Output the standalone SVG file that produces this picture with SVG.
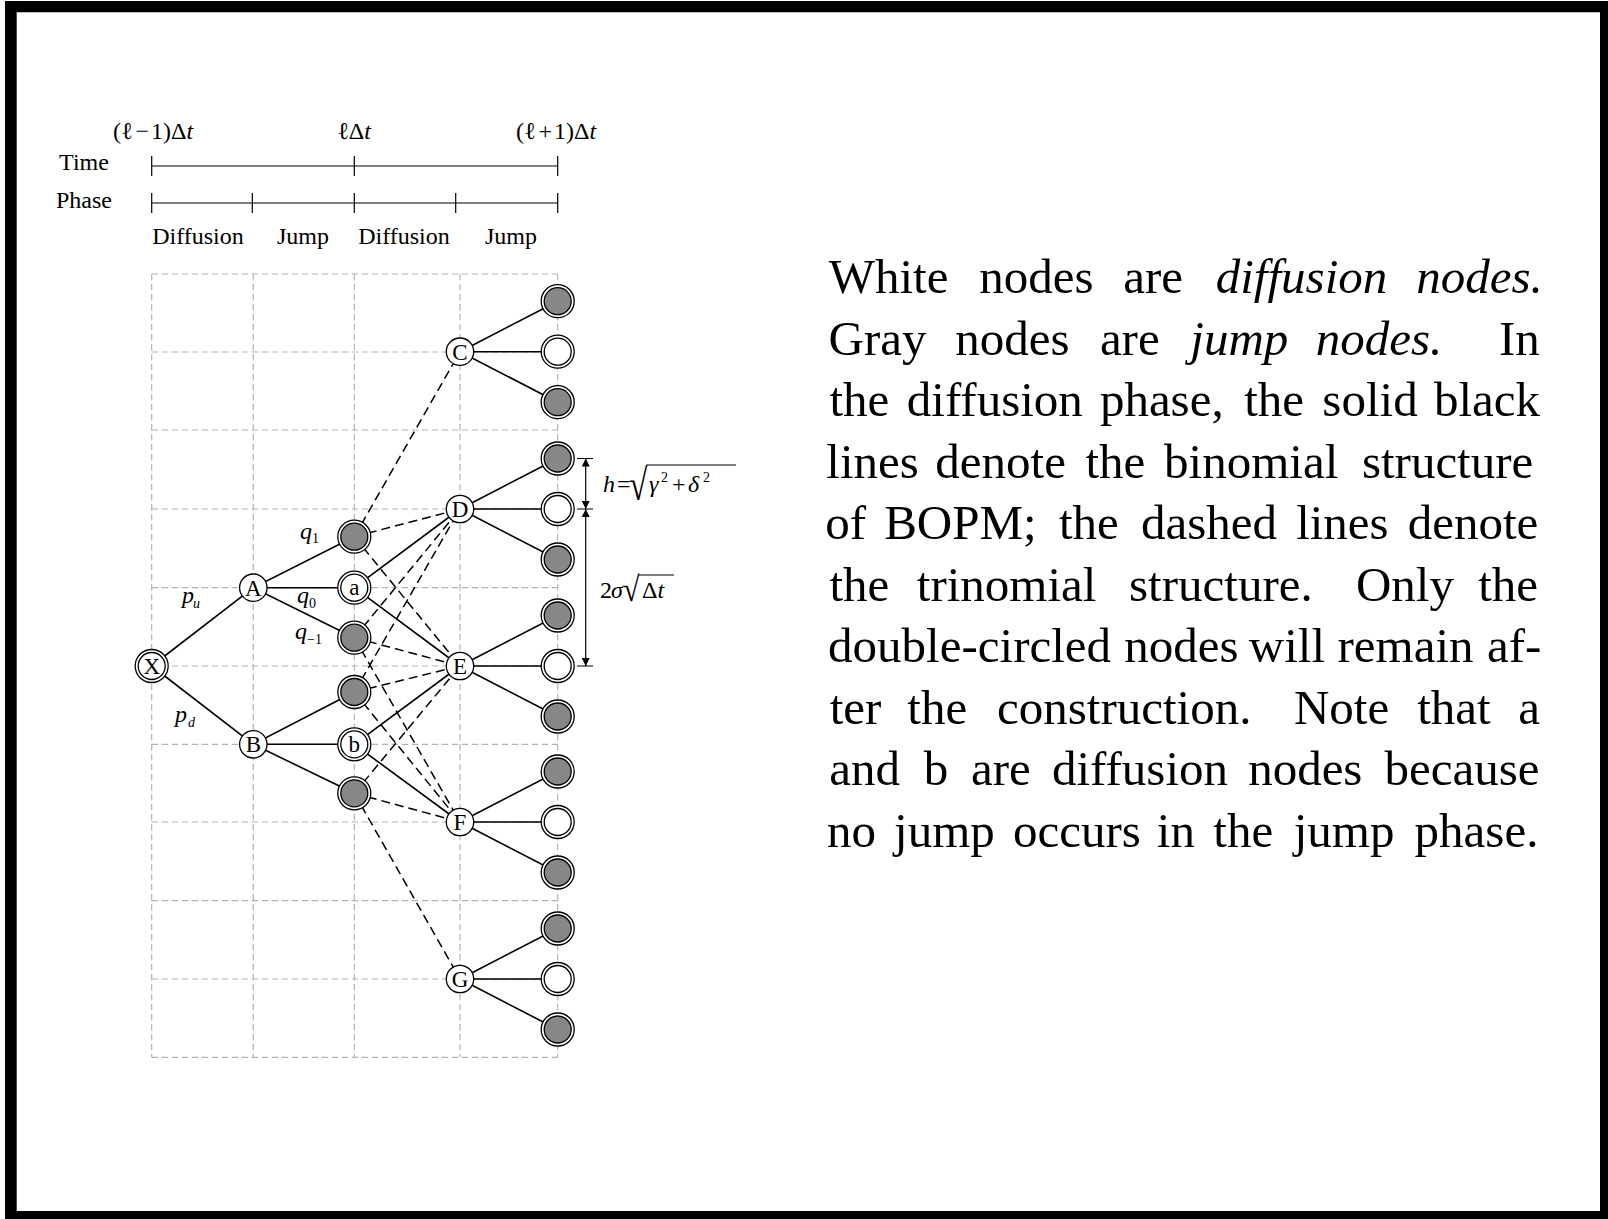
<svg xmlns="http://www.w3.org/2000/svg" xmlns:xlink="http://www.w3.org/1999/xlink" width="1608" height="1219" viewBox="0 0 1608 1219">
<style>
.grid{stroke:#b3b3b3;stroke-width:1.2;stroke-dasharray:6.5 3.5;fill:none}
.e{stroke:#000;stroke-width:1.6;fill:none}
.d{stroke:#000;stroke-width:1.5;stroke-dasharray:9 5;fill:none}
.n{fill:#fff;stroke:#000;stroke-width:1.3}
.g{fill:#878787;stroke:#000;stroke-width:1.3}
.tl{stroke:#000;stroke-width:1.2;fill:none}
.lbl{font-family:"Liberation Serif","Times New Roman",serif;font-size:23px;fill:#000;text-anchor:middle}
.m{font-family:"Liberation Serif","Times New Roman",serif;font-size:24px;fill:#000}
.it{font-style:italic}
.sub{font-family:"Liberation Serif","Times New Roman",serif;font-size:14px;fill:#000}
.para{font-family:"Liberation Serif","Times New Roman",serif;font-size:49px;fill:#000;text-anchor:middle}
</style>
<defs>
<g id="gj"><circle r="16.5" class="n"/><circle r="13.5" class="g"/></g>
<g id="wd"><circle r="16.5" class="n"/><circle r="13.5" class="n"/></g>
<marker id="ah" viewBox="0 0 10 10" refX="10" refY="5" markerWidth="9" markerHeight="8" markerUnits="userSpaceOnUse" orient="auto-start-reverse"><path d="M0,0 L10,5 L0,10 z" fill="#000"/></marker>
</defs>
<rect x="0" y="0" width="1608" height="1219" fill="#fff"/>
<path d="M5,1 H1608 V1219 H5 Z M16.7,12.3 V1211 H1600 V12.3 Z" fill="#000" fill-rule="evenodd"/>

<g id="timeline">
<text class="m" x="153" y="139" text-anchor="middle">(ℓ<tspan dx="3">−</tspan><tspan dx="2">1)Δ</tspan><tspan class="it">t</tspan></text>
<text class="m" x="354" y="139" text-anchor="middle">ℓΔ<tspan class="it">t</tspan></text>
<text class="m" x="556" y="139" text-anchor="middle">(ℓ<tspan dx="3">+</tspan><tspan dx="2">1)Δ</tspan><tspan class="it">t</tspan></text>
<text class="m" x="84" y="170" text-anchor="middle">Time</text>
<text class="m" x="84" y="208" text-anchor="middle">Phase</text>
<path class="tl" d="M151.7,166 H557.7 M151.7,156 V176 M354.3,156 V176 M557.7,156 V176"/>
<path class="tl" d="M151.7,203 H557.7 M151.7,193 V213 M252.3,193 V213 M354.3,193 V213 M455.7,193 V213 M557.7,193 V213"/>
<text class="m" x="198" y="244" text-anchor="middle">Diffusion</text>
<text class="m" x="303" y="244" text-anchor="middle">Jump</text>
<text class="m" x="404" y="244" text-anchor="middle">Diffusion</text>
<text class="m" x="511" y="244" text-anchor="middle">Jump</text>
</g>

<g id="grid">
<path class="grid" d="M151.7,274 V1057.3 M253.3,274 V1057.3 M354.3,274 V1057.3 M460,274 V1057.3 M557.7,274 V1057.3"/>
<path class="grid" d="M151.7,274 H557.7 M151.7,352 H557.7 M151.7,430 H557.7 M151.7,509 H557.7 M151.7,587.7 H557.7 M151.7,666 H557.7 M151.7,744.3 H557.7 M151.7,822 H557.7 M151.7,900.7 H557.7 M151.7,979 H557.7 M151.7,1057.3 H557.7"/>
</g>

<g id="connectors">
<path class="e" d="M151.7,666 L253.3,587.7 M151.7,666 L253.3,744.3
M253.3,587.7 L354.3,536.7 M253.3,587.7 L354.3,587.7 M253.3,587.7 L354.3,637.7
M253.3,744.3 L354.3,692 M253.3,744.3 L354.3,744.3 M253.3,744.3 L354.3,793.3
M354.3,587.7 L460,509 M354.3,587.7 L460,666
M354.3,744.3 L460,666 M354.3,744.3 L460,822
M460,351.7 L557.7,301.2 M460,351.7 L557.7,351.7 M460,351.7 L557.7,402.2
M460,509 L557.7,458.5 M460,509 L557.7,509 M460,509 L557.7,559.5
M460,666 L557.7,615.5 M460,666 L557.7,666 M460,666 L557.7,716.5
M460,822 L557.7,771.5 M460,822 L557.7,822 M460,822 L557.7,872.5
M460,979 L557.7,928.5 M460,979 L557.7,979 M460,979 L557.7,1029.5"/>
<path class="d" d="M354.3,536.7 L460,351.7 M354.3,536.7 L460,509 M354.3,536.7 L460,666
M354.3,637.7 L460,509 M354.3,637.7 L460,666 M354.3,637.7 L460,822
M354.3,692 L460,509 M354.3,692 L460,666 M354.3,692 L460,822
M354.3,793.3 L460,666 M354.3,793.3 L460,822 M354.3,793.3 L460,979"/>
</g>

<g id="edge-labels">
<text class="m it" x="182" y="603">p</text><text class="sub it" x="193" y="608">u</text>
<text class="m it" x="175" y="722">p</text><text class="sub it" x="188" y="727">d</text>
<text class="m it" x="300" y="539">q</text><text class="sub" x="312" y="543">1</text>
<text class="m it" x="297" y="603">q</text><text class="sub" x="309" y="608">0</text>
<text class="m it" x="295" y="639">q</text><text class="sub" x="307" y="644">−1</text>
</g>

<g id="node-X"><use href="#wd" x="151.7" y="666"/><text class="lbl" x="151.7" y="674">X</text></g>
<g id="node-A"><circle class="n" cx="253.3" cy="587.7" r="13.7"/><text class="lbl" x="253.3" y="595.7">A</text></g>
<g id="node-B"><circle class="n" cx="253.3" cy="744.3" r="13.7"/><text class="lbl" x="253.3" y="752.3">B</text></g>
<g id="node-a"><use href="#wd" x="354.3" y="587.7"/><text class="lbl" x="354.3" y="594.7">a</text></g>
<g id="node-b"><use href="#wd" x="354.3" y="744.3"/><text class="lbl" x="354.3" y="751.8">b</text></g>
<g id="node-j1"><use href="#gj" x="354.3" y="536.7"/></g>
<g id="node-j2"><use href="#gj" x="354.3" y="637.7"/></g>
<g id="node-j3"><use href="#gj" x="354.3" y="692"/></g>
<g id="node-j4"><use href="#gj" x="354.3" y="793.3"/></g>
<g id="node-C"><circle class="n" cx="460" cy="351.7" r="13.7"/><text class="lbl" x="460" y="359.7">C</text></g>
<g id="node-D"><circle class="n" cx="460" cy="509" r="13.7"/><text class="lbl" x="460" y="517">D</text></g>
<g id="node-E"><circle class="n" cx="460" cy="666" r="13.7"/><text class="lbl" x="460" y="674">E</text></g>
<g id="node-F"><circle class="n" cx="460" cy="822" r="13.7"/><text class="lbl" x="460" y="830">F</text></g>
<g id="node-G"><circle class="n" cx="460" cy="979" r="13.7"/><text class="lbl" x="460" y="987">G</text></g>
<g id="node-C1"><use href="#gj" x="557.7" y="301.2"/></g>
<g id="node-C2"><use href="#wd" x="557.7" y="351.7"/></g>
<g id="node-C3"><use href="#gj" x="557.7" y="402.2"/></g>
<g id="node-D1"><use href="#gj" x="557.7" y="458.5"/></g>
<g id="node-D2"><use href="#wd" x="557.7" y="509"/></g>
<g id="node-D3"><use href="#gj" x="557.7" y="559.5"/></g>
<g id="node-E1"><use href="#gj" x="557.7" y="615.5"/></g>
<g id="node-E2"><use href="#wd" x="557.7" y="666"/></g>
<g id="node-E3"><use href="#gj" x="557.7" y="716.5"/></g>
<g id="node-F1"><use href="#gj" x="557.7" y="771.5"/></g>
<g id="node-F2"><use href="#wd" x="557.7" y="822"/></g>
<g id="node-F3"><use href="#gj" x="557.7" y="872.5"/></g>
<g id="node-G1"><use href="#gj" x="557.7" y="928.5"/></g>
<g id="node-G2"><use href="#wd" x="557.7" y="979"/></g>
<g id="node-G3"><use href="#gj" x="557.7" y="1029.5"/></g>

<g id="dimensions">
<path class="tl" d="M577,458.5 H593 M577,509 H593 M577,666 H593"/>
<line class="tl" x1="585.7" y1="458.5" x2="585.7" y2="509" marker-start="url(#ah)" marker-end="url(#ah)"/>
<line class="tl" x1="585.7" y1="509" x2="585.7" y2="666" marker-start="url(#ah)" marker-end="url(#ah)"/>
<text class="m it" x="603" y="492" font-size="23">h</text>
<text class="m" x="617" y="492" font-size="23">=</text>
<text class="m" font-size="24" transform="translate(629,500) scale(1.4,1.85)">√</text>
<line class="tl" x1="647" y1="465" x2="736" y2="465"/>
<text class="m it" x="649" y="492" font-size="23">γ</text>
<text class="sub" x="661" y="482" font-size="13">2</text>
<text class="m" x="672" y="492" font-size="23">+</text>
<text class="m it" x="688" y="492" font-size="23">δ</text>
<text class="sub" x="703" y="482" font-size="13">2</text>
<text class="m" x="600" y="598" font-size="23">2</text>
<text class="m it" x="611" y="598" font-size="23">σ</text>
<text class="m" font-size="24" transform="translate(623,601) scale(1.25,1.45)">√</text>
<line class="tl" x1="639" y1="575" x2="674" y2="575"/>
<text class="m" x="642" y="598" font-size="23">Δ<tspan class="it">t</tspan></text>
</g>

<g id="caption">
<text class="para" y="293.3"><tspan x="888.6">White</tspan><tspan x="1036.4">nodes</tspan><tspan x="1153.2">are</tspan><tspan x="1301.5" class="it">diffusion</tspan><tspan x="1479.5" class="it">nodes.</tspan></text>
<text class="para" y="354.8"><tspan x="877.5">Gray</tspan><tspan x="1012.5">nodes</tspan><tspan x="1129.8">are</tspan><tspan x="1239.3" class="it">jump</tspan><tspan x="1379" class="it">nodes.</tspan><tspan x="1519.4">In</tspan></text>
<text class="para" y="416.3"><tspan x="859.4">the</tspan><tspan x="994.8">diffusion</tspan><tspan x="1161.8">phase,</tspan><tspan x="1274.2">the</tspan><tspan x="1370">solid</tspan><tspan x="1487">black</tspan></text>
<text class="para" y="477.8"><tspan x="872.6">lines</tspan><tspan x="1000.6">denote</tspan><tspan x="1115.4">the</tspan><tspan x="1251.2">binomial</tspan><tspan x="1447.6">structure</tspan></text>
<text class="para" y="539.3"><tspan x="845.6">of</tspan><tspan x="960.4">BOPM;</tspan><tspan x="1088.9">the</tspan><tspan x="1209.1">dashed</tspan><tspan x="1342.4">lines</tspan><tspan x="1473">denote</tspan></text>
<text class="para" y="600.8"><tspan x="859.4">the</tspan><tspan x="1006.6">trinomial</tspan><tspan x="1220.9">structure.</tspan><tspan x="1404.9">Only</tspan><tspan x="1508.1">the</tspan></text>
<text class="para" y="662.3"><tspan x="969.6">double-circled</tspan><tspan x="1181.4">nodes</tspan><tspan x="1286.9">will</tspan><tspan x="1405.5">remain</tspan><tspan x="1514.2">af-</tspan></text>
<text class="para" y="723.8"><tspan x="855.5">ter</tspan><tspan x="937.3">the</tspan><tspan x="1124.2">construction.</tspan><tspan x="1341.5">Note</tspan><tspan x="1454">that</tspan><tspan x="1529.2">a</tspan></text>
<text class="para" y="785.3"><tspan x="864.7">and</tspan><tspan x="936">b</tspan><tspan x="1000.9">are</tspan><tspan x="1140">diffusion</tspan><tspan x="1305.3">nodes</tspan><tspan x="1462.1">because</tspan></text>
<text class="para" y="846.8"><tspan x="851.5">no</tspan><tspan x="944.4">jump</tspan><tspan x="1076.9">occurs</tspan><tspan x="1175.9">in</tspan><tspan x="1243.3">the</tspan><tspan x="1344.1">jump</tspan><tspan x="1476.5">phase.</tspan></text>
</g>
</svg>
